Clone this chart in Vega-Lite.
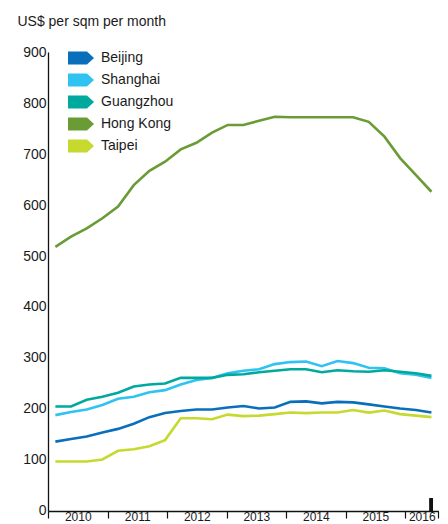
{
  "$schema": "https://vega.github.io/schema/vega-lite/v6.json",
  "width": 390.4,
  "height": 459,
  "autosize": {"type": "none"},
  "padding": {"left": 48, "top": 52, "right": 10, "bottom": 13},
  "config": {
    "view": {"stroke": null},
    "font": "Liberation Sans",
    "axis": {"labelFont": "Liberation Sans", "titleFont": "Liberation Sans", "labelColor": "#1a1a1a", "titleColor": "#1a1a1a", "domainColor": "#111", "tickColor": "#111", "grid": false},
    "legend": {"labelFont": "Liberation Sans", "labelColor": "#1a1a1a"}
  },
  "data": {
    "values": [
      {"t": 2010.124, "Beijing": 136, "Shanghai": 188, "Guangzhou": 205, "Hong Kong": 518, "Taipei": 97},
      {"t": 2010.387, "Beijing": 141, "Shanghai": 194, "Guangzhou": 205, "Hong Kong": 538, "Taipei": 97},
      {"t": 2010.651, "Beijing": 146, "Shanghai": 199, "Guangzhou": 218, "Hong Kong": 554, "Taipei": 97},
      {"t": 2010.914, "Beijing": 154, "Shanghai": 208, "Guangzhou": 224, "Hong Kong": 574, "Taipei": 101},
      {"t": 2011.177, "Beijing": 161, "Shanghai": 220, "Guangzhou": 232, "Hong Kong": 597, "Taipei": 118},
      {"t": 2011.441, "Beijing": 171, "Shanghai": 224, "Guangzhou": 244, "Hong Kong": 639, "Taipei": 121},
      {"t": 2011.704, "Beijing": 184, "Shanghai": 233, "Guangzhou": 248, "Hong Kong": 667, "Taipei": 127},
      {"t": 2011.967, "Beijing": 192, "Shanghai": 237, "Guangzhou": 250, "Hong Kong": 685, "Taipei": 139},
      {"t": 2012.230, "Beijing": 196, "Shanghai": 248, "Guangzhou": 261, "Hong Kong": 709, "Taipei": 182},
      {"t": 2012.494, "Beijing": 199, "Shanghai": 257, "Guangzhou": 261, "Hong Kong": 722, "Taipei": 182},
      {"t": 2012.757, "Beijing": 199, "Shanghai": 261, "Guangzhou": 261, "Hong Kong": 742, "Taipei": 180},
      {"t": 2013.020, "Beijing": 203, "Shanghai": 270, "Guangzhou": 267, "Hong Kong": 757, "Taipei": 189},
      {"t": 2013.284, "Beijing": 206, "Shanghai": 275, "Guangzhou": 268, "Hong Kong": 757, "Taipei": 186},
      {"t": 2013.547, "Beijing": 201, "Shanghai": 278, "Guangzhou": 272, "Hong Kong": 765, "Taipei": 187},
      {"t": 2013.810, "Beijing": 203, "Shanghai": 288, "Guangzhou": 275, "Hong Kong": 773, "Taipei": 190},
      {"t": 2014.074, "Beijing": 214, "Shanghai": 292, "Guangzhou": 278, "Hong Kong": 772, "Taipei": 193},
      {"t": 2014.337, "Beijing": 215, "Shanghai": 293, "Guangzhou": 278, "Hong Kong": 772, "Taipei": 192},
      {"t": 2014.600, "Beijing": 211, "Shanghai": 284, "Guangzhou": 272, "Hong Kong": 772, "Taipei": 193},
      {"t": 2014.864, "Beijing": 214, "Shanghai": 294, "Guangzhou": 276, "Hong Kong": 772, "Taipei": 193},
      {"t": 2015.127, "Beijing": 213, "Shanghai": 290, "Guangzhou": 274, "Hong Kong": 772, "Taipei": 198},
      {"t": 2015.390, "Beijing": 209, "Shanghai": 281, "Guangzhou": 273, "Hong Kong": 763, "Taipei": 193},
      {"t": 2015.654, "Beijing": 205, "Shanghai": 280, "Guangzhou": 276, "Hong Kong": 734, "Taipei": 197},
      {"t": 2015.917, "Beijing": 201, "Shanghai": 270, "Guangzhou": 273, "Hong Kong": 692, "Taipei": 190},
      {"t": 2016.180, "Beijing": 198, "Shanghai": 267, "Guangzhou": 270, "Hong Kong": 659, "Taipei": 187},
      {"t": 2016.443, "Beijing": 193, "Shanghai": 261, "Guangzhou": 265, "Hong Kong": 626, "Taipei": 184}
    ]
  },
  "layer": [
    {
      "transform": [{"fold": ["Beijing", "Shanghai", "Guangzhou", "Hong Kong", "Taipei"], "as": ["city", "rent"]}],
      "mark": {"type": "line", "strokeWidth": 2.6},
      "encoding": {
        "x": {
          "field": "t", "type": "quantitative",
          "scale": {"domain": [2010, 2016.56], "nice": false, "zero": false},
          "axis": {
            "title": null,
            "values": [2010, 2011, 2012, 2013, 2014, 2015, 2016, 2016.56],
            "labelExpr": "datum.value > 2016.1 ? '' : format(datum.value, 'd')",
            "labelOffset": {"condition": {"test": "datum.value == 2016", "value": 16.7}, "value": 29.75},
            "labelFontSize": 12,
            "labelBaseline": "alphabetic",
            "labelPadding": 3,
            "labelFlush": false,
            "labelOverlap": false,
            "labelBound": false,
            "tickSize": 7,
            "tickWidth": 1.2,
            "domainWidth": 1.3
          }
        },
        "y": {
          "field": "rent", "type": "quantitative",
          "scale": {"domain": [0, 900], "nice": false},
          "axis": {
            "values": [0, 100, 200, 300, 400, 500, 600, 700, 800, 900],
            "ticks": false,
            "labelPadding": 2,
            "labelFontSize": 14,
            "domainWidth": 1.3,
            "title": "US$ per sqm per month",
            "titleAngle": 0,
            "titleAlign": "left",
            "titleBaseline": "alphabetic",
            "titleX": -31,
            "titleY": -27,
            "titleFontSize": 14,
            "titleFontWeight": "normal"
          }
        },
        "color": {
          "field": "city", "type": "nominal",
          "scale": {"domain": ["Beijing", "Shanghai", "Guangzhou", "Hong Kong", "Taipei"], "range": ["#0a6fba", "#2ec3f0", "#00a99d", "#6a9b34", "#c6d92f"]},
          "legend": {
            "title": null,
            "orient": "none",
            "legendX": 20,
            "legendY": -7,
            "padding": 0,
            "symbolType": "M-1,-0.5L0.46,-0.5L1,0L0.46,0.5L-1,0.5Z",
            "symbolSize": 676,
            "symbolStrokeWidth": 0,
            "labelFontSize": 14,
            "labelOffset": 7,
            "rowPadding": 2,
            "encode": {
              "symbols": {
                "update": {
                  "fill": {"scale": "color", "field": "value"},
                  "fillOpacity": {"value": 1},
                  "strokeWidth": {"value": 0}
                }
              }
            }
          }
        }
      }
    },
    {
      "mark": {"type": "rule", "color": "#111", "strokeWidth": 3},
      "encoding": {
        "x": {"datum": 2016.443, "type": "quantitative"},
        "y": {"datum": 0, "type": "quantitative"},
        "y2": {"datum": 25}
      }
    }
  ]
}
